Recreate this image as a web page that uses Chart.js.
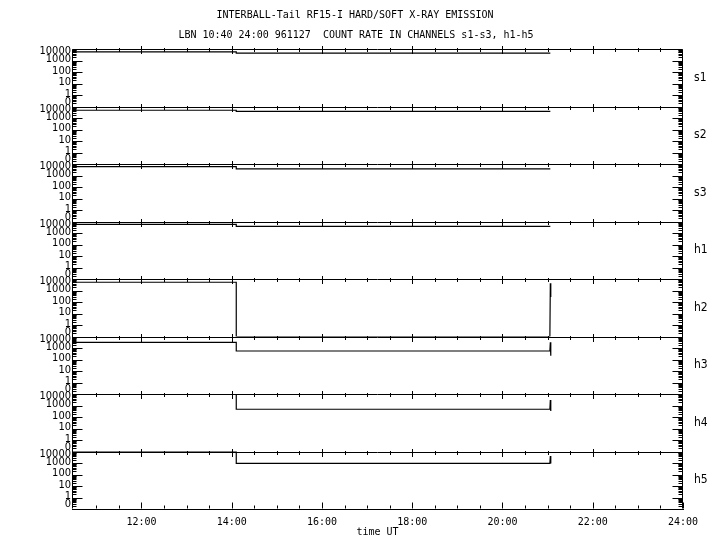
<!DOCTYPE html>
<html>
<head>
<meta charset="utf-8">
<script src="https://cdn.jsdelivr.net/npm/chart.js@4.4.1/dist/chart.umd.min.js"></script>
<style>
  html, body { margin: 0; padding: 0; background: #fff; }
  canvas { display: block; }
</style>
</head>
<body>
<canvas id="chart" width="720" height="550"></canvas>
<script>
/* ---------- data ---------- */
const TITLE    = ['INTERBALL-Tail RF15-I HARD/SOFT X-RAY EMISSION',
                  'LBN 10:40 24:00 961127  COUNT RATE IN CHANNELS s1-s3, h1-h5'];
const X_TITLE  = 'time UT';
const CHANNELS = ['s1', 's2', 's3', 'h1', 'h2', 'h3', 'h4', 'h5'];

// time in hours UT
const TIMES = [10.47, 14.10, 14.10, 21.05, 21.06, 21.07];
// count rates per channel (0 = no counts, drawn on the "0" floor)
const S1 = [5700, 5700, 4300, 4300, 4300, 4300];
const S2 = [4700, 4700, 3800, 3800, 3800, 3800];
const S3 = [5800, 5800, 3700, 3700, 3700, 3700];
const H1 = [5600, 5600, 3800, 3800, 3800, 3800];
const H2 = [5200, 5200, 0, 0, 4200, 270];
const H3 = [3100, 3100, 550, 550, 3100, 215];
const H4 = [10000, 10000, 470, 470, 3000, 330];
const H5 = [10000, 10000, 940, 940, 4100, 900];
const SERIES = [S1, S2, S3, H1, H2, H3, H4, H5];

const X_MIN = 10.46, X_MAX = 24;
const X_TICKS  = [12, 14, 16, 18, 20, 22, 24];
const X_LABELS = ['12:00', '14:00', '16:00', '18:00', '20:00', '22:00', '24:00'];
const Y_MIN = 0.1, Y_MAX = 10000;
const Y_TICKS  = [0.1, 1, 10, 100, 1000, 10000];
const Y_LABELS = ['0', '1', '10', '100', '1000', '10000'];

/* ---------- look ---------- */
const MONO  = "'DejaVu Sans Mono', monospace";
const NUMS  = "'DejaVu Sans Condensed', 'DejaVu Sans', sans-serif";
const INK   = '#000';

/* ---------- frame plugin: titles, panel lines, ticks, labels ---------- */
const frame = {
  id: 'frame',
  afterDatasetsDraw(chart) {
    const { ctx, chartArea: a, scales } = chart;
    const x = scales.x;
    const L = Math.round(a.left) + 0.5;
    const R = Math.round(a.right) - 0.5;
    const B = Math.round(a.bottom) - 0.5;
    const px = t => Math.round(x.getPixelForValue(t)) + 0.5;

    ctx.save();
    ctx.strokeStyle = INK;
    ctx.lineWidth = 1;
    ctx.beginPath();
    ctx.moveTo(L, Math.round(a.top) + 0.5); ctx.lineTo(L, B);
    ctx.moveTo(R, Math.round(a.top) + 0.5); ctx.lineTo(R, B);

    CHANNELS.forEach((ch, i) => {
      const y = scales['y' + i];
      const top = Math.round(y.top) + 0.5;
      ctx.moveTo(L, top); ctx.lineTo(R, top);
      // time ticks across the panel border
      for (let t = 11; t < X_MAX; t += 0.5) {
        const len = t % 2 === 0 ? 3.5 : 1.5;
        ctx.moveTo(px(t), top - len); ctx.lineTo(px(t), top + len + 1);
      }
      // log ticks on both sides
      for (let d = -1; d <= 4; d++) {
        for (let k = 1; k <= 9; k++) {
          const v = k * Math.pow(10, d);
          if (v > Y_MAX) break;
          const py = Math.round(y.getPixelForValue(v)) + 0.5;
          const len = k === 1 ? 10 : 4;
          ctx.moveTo(L, py); ctx.lineTo(L + len, py);
          ctx.moveTo(R, py); ctx.lineTo(R - len, py);
        }
      }
    });
    // bottom time ticks
    for (let t = 11; t <= X_MAX; t += 0.5) {
      const len = t % 2 === 0 ? 6 : 3;
      ctx.moveTo(px(t), B); ctx.lineTo(px(t), B - len);
    }
    ctx.stroke();

    // value labels and channel names
    ctx.fillStyle = INK;
    CHANNELS.forEach((ch, i) => {
      const y = scales['y' + i];
      ctx.font = '11px ' + NUMS;
      ctx.textAlign = 'right';
      ctx.textBaseline = 'middle';
      Y_TICKS.forEach((v, j) => {
        let off = -1;
        if (v === Y_MAX) off = 2.5;
        if (v === Y_MIN) off = -4.5;
        ctx.fillText(Y_LABELS[j], L - 1.5, y.getPixelForValue(v) + off);
      });
      ctx.font = '12px ' + NUMS;
      ctx.textAlign = 'left';
      ctx.fillText(ch, a.right + 11, (y.top + y.bottom) / 2);
    });

    // title lines and time axis title
    ctx.font = '10px ' + MONO;
    ctx.textAlign = 'center';
    ctx.fillText(TITLE[0], 355, 15);
    ctx.fillText(TITLE[1], 356, 35);
    ctx.fillText(X_TITLE, (a.left + a.right) / 2, 532);
    ctx.restore();
  }
};

/* ---------- scales ---------- */
const scales = {
  x: {
    type: 'linear',
    position: 'bottom',
    min: X_MIN,
    max: X_MAX,
    grid: { display: false, drawTicks: false },
    border: { display: true, color: INK, width: 1 },
    afterBuildTicks: s => { s.ticks = X_TICKS.map(v => ({ value: v })); },
    afterFit: s => { s.height = 41; },
    ticks: {
      autoSkip: false,
      maxRotation: 0,
      padding: 7,
      color: INK,
      font: { family: MONO, size: 10, lineHeight: 1.2 },
      callback: (v, i) => X_LABELS[i]
    }
  }
};
// stacked left axes are laid out last-defined on top, so add h5 first
for (let i = CHANNELS.length - 1; i >= 0; i--) {
  scales['y' + i] = {
    type: 'logarithmic',
    position: 'left',
    stack: 'channels',
    stackWeight: 1,
    min: Y_MIN,
    max: Y_MAX,
    grid: { display: false, drawTicks: false },
    border: { display: false },
    ticks: { display: false },
    afterBuildTicks: s => { s.ticks = Y_TICKS.map(v => ({ value: v })); }
  };
}

/* ---------- chart ---------- */
const datasets = SERIES.map((vals, i) => ({
  label: CHANNELS[i],
  data: TIMES.map((t, j) => ({ x: t, y: vals[j] || Y_MIN })),
  yAxisID: 'y' + i,
  borderColor: INK,
  borderWidth: 1.2,
  pointRadius: 0,
  tension: 0,
  fill: false
}));

new Chart(document.getElementById('chart'), {
  type: 'line',
  data: { datasets },
  options: {
    responsive: false,
    animation: false,
    devicePixelRatio: 1,
    layout: { padding: { left: 72, right: 37, top: 49, bottom: 0 } },
    plugins: { legend: { display: false }, tooltip: { enabled: false }, title: { display: false } },
    scales
  },
  plugins: [frame]
});
</script>
</body>
</html>
